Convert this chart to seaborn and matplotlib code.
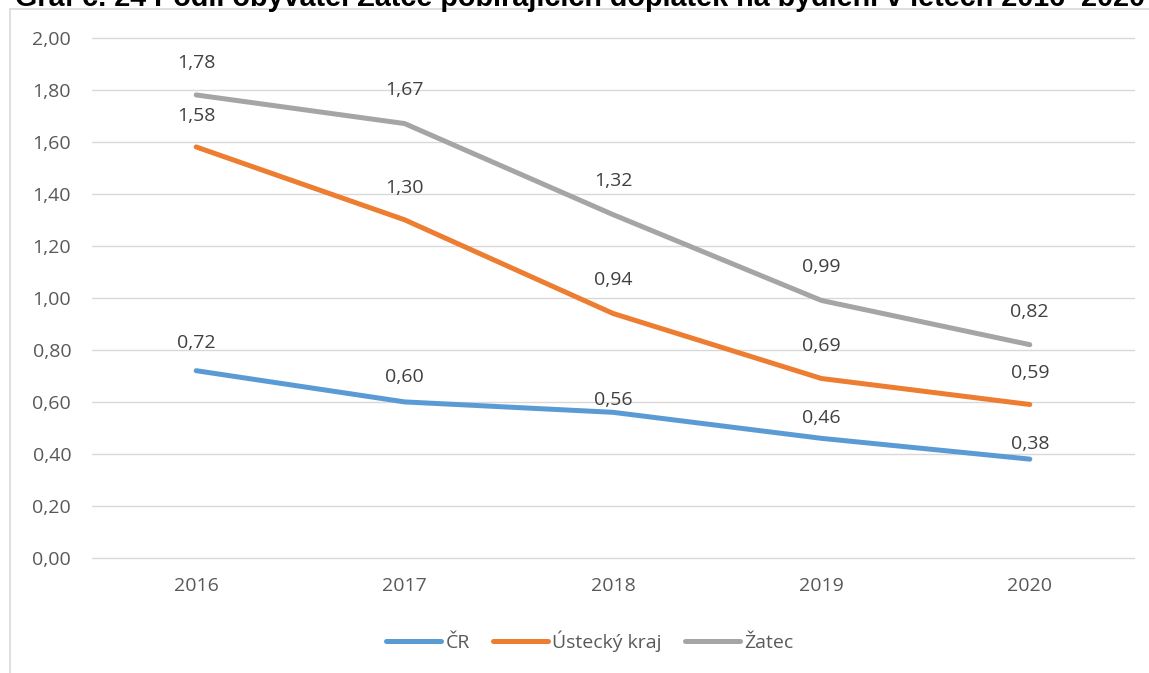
import matplotlib
matplotlib.use('Agg')
import matplotlib.pyplot as plt
import seaborn as sns
import pandas as pd
import numpy as np
from matplotlib.lines import Line2D

# ---- data ----
years = [2016, 2017, 2018, 2019, 2020]
cr = [0.72, 0.60, 0.56, 0.46, 0.38]
ustecky = [1.58, 1.30, 0.94, 0.69, 0.59]
zatec = [1.78, 1.67, 1.32, 0.99, 0.82]
series_names = ['ČR', 'Ústecký kraj', 'Žatec']
title = 'Graf č. 24 Podíl obyvatel Žatce pobírajících doplatek na bydlení v letech 2016–2020'

# ---- styles ----
colors = ['#5B9BD5', '#ED7D31', '#A5A5A5']
label_offsets_px = {'ČR': [28, 25, 12, 20, 15],
                    'Ústecký kraj': [31, 32, 33, 32, 32],
                    'Žatec': [32, 34, 34, 33, 33]}

df = pd.DataFrame({
    'Rok': years * 3,
    'Hodnota': cr + ustecky + zatec,
    'Řada': [n for n in series_names for _ in years],
})

sns.set_theme(style='white')
plt.rcParams['font.family'] = ['Open Sans', 'DejaVu Sans']

W, H = 1149, 673
fig = plt.figure(figsize=(W / 100, H / 100), dpi=100)

# outer chart frame (left and top edges)
fig.add_artist(Line2D([10 / W, 10 / W], [0, 1 - 8.5 / H], color='#D9D9D9', lw=1.2))
fig.add_artist(Line2D([10 / W, 1], [1 - 8.5 / H, 1 - 8.5 / H], color='#D9D9D9', lw=1.2))

# title, clipped at the very top as in the source image
fig.text(15 / W, 1 - 5.5 / H, title, ha='left', va='baseline', fontsize=20.7,
         fontweight='bold', color='black', family=['Liberation Sans', 'DejaVu Sans'])

ax = fig.add_axes([92 / W, 1 - 558 / H, (1134 - 92) / W, (558 - 37.7) / H])
sns.lineplot(data=df, x='Rok', y='Hodnota', hue='Řada', hue_order=series_names,
             palette=colors, linewidth=3.6, ax=ax, legend=False,
             solid_capstyle='round')

ax.set_xlim(2015.5, 2020.5)
ax.set_ylim(0, 2)
yt = np.round(np.arange(0, 2.01, 0.2), 2)
ax.set_yticks(yt)
ax.set_yticklabels([f'{v:.2f}'.replace('.', ',') for v in yt])
ax.set_xticks(years)
ax.set_xticklabels([str(y) for y in years])
ax.set_xlabel('')
ax.set_ylabel('')
ax.grid(axis='y', color='#D9D9D9', lw=1)
ax.grid(axis='x', visible=False)
for gl in ax.get_ygridlines():
    gl.set_clip_on(False)
for s in ax.spines.values():
    s.set_visible(False)
ax.tick_params(axis='both', length=0, labelsize=14, labelcolor='#595959')
ax.tick_params(axis='y', pad=15)
ax.tick_params(axis='x', pad=14)
ax.set_axisbelow(True)

vals = {'ČR': cr, 'Ústecký kraj': ustecky, 'Žatec': zatec}
for name in series_names:
    for x, v, off in zip(years, vals[name], label_offsets_px[name]):
        ax.annotate(f'{v:.2f}'.replace('.', ','), (x, v), xytext=(0, off * 72 / 100),
                    textcoords='offset points', ha='center', va='center',
                    fontsize=14, color='#404040')

handles = [Line2D([], [], color=c, lw=3.6, solid_capstyle='round') for c in colors]
fig.legend(handles, series_names, loc='center', bbox_to_anchor=(590 / W, 1 - 641 / H),
           ncol=3, frameon=False, fontsize=14, labelcolor='#595959',
           handlelength=2.8, handletextpad=0.25, columnspacing=1.2)

fig.savefig('out.png', dpi=100)
